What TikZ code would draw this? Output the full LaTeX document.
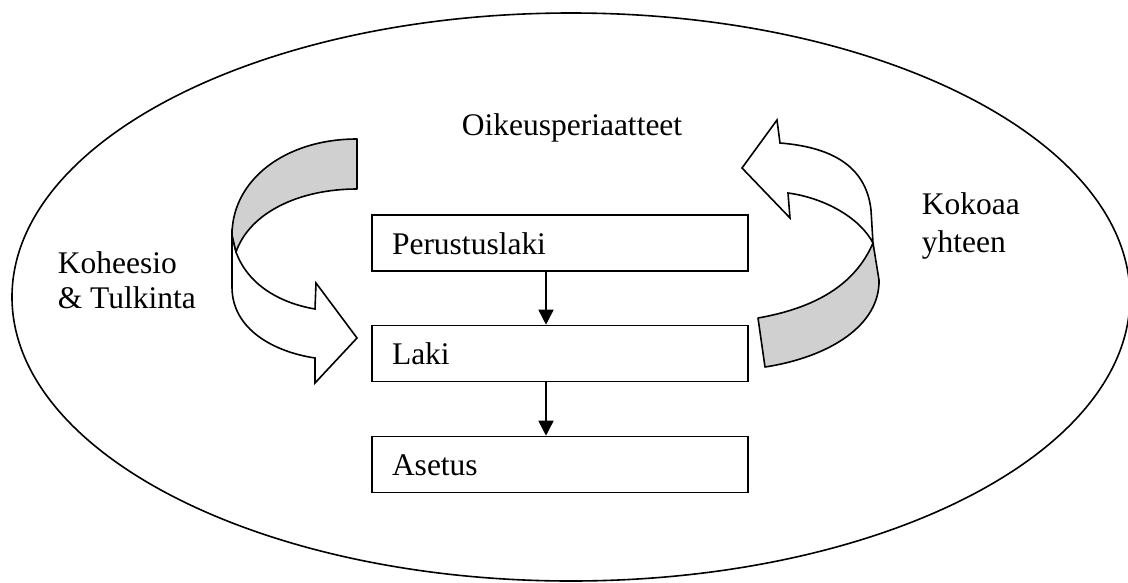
\documentclass[tikz,border=0pt]{standalone}
\usepackage{fontspec}
\setmainfont{Liberation Serif}
\usetikzlibrary{arrows.meta}
\definecolor{bandgray}{RGB}{208,208,208}
\newcommand\labfont{\fontsize{31.5}{35}\selectfont}
\begin{document}
\begin{tikzpicture}[x=1pt,y=-1pt,line width=1.6pt,
  lawbox/.style={draw, minimum width=376pt, minimum height=56pt, text width=336pt,
    inner xsep=20pt, inner ysep=0pt, align=left, text height=22pt, text depth=0pt, font=\labfont},
  lab/.style={inner sep=0pt, font=\labfont, align=left},
  down/.style={-{Triangle[length=15pt,width=15pt]}},
  band/.style={fill=bandgray, draw=black, line join=round},
  blockarrow/.style={fill=white, draw=black, line join=miter}]
\useasboundingbox (0,0) rectangle (1128,582);
\draw (571,297) ellipse [x radius=559, y radius=284];

\node[lab, anchor=base west] (oik) at (461,135) {Oikeusperiaatteet};
\node[lab, anchor=north west] (koh) at (57,250.5) {Koheesio\\\& Tulkinta};
\node[lab, anchor=north west] (kok) at (921,191.5) {Kokoaa\\[3pt]yhteen};

\node[lawbox] (p) at (560,243) {Perustuslaki};
\node[lawbox] (l) at (560,353.5) {Laki};
\node[lawbox] (a) at (560,464.5) {Asetus};
\draw[down] ([xshift=-14pt]p.south) -- ([xshift=-14pt]l.north);
\draw[down] ([xshift=-14pt]l.south) -- ([xshift=-14pt]a.north);

% left curved arrow
\draw[blockarrow] (232,235) -- (232,287) .. controls (232,330) and (275,352) .. (315,358)
  -- (315,383) -- (357,338) -- (316,283) -- (315,309)
  .. controls (280,303) and (248,285) .. (236,252) -- cycle;
\draw[band] (357,139) .. controls (285,139) and (232,180) .. (232,235) -- (236,252)
  .. controls (250,212) and (300,189) .. (357,189) -- cycle;

% right curved arrow
\draw[band] (765,367) .. controls (830,357) and (880,325) .. (879,280) -- (873,243)
  .. controls (855,285) and (815,308) .. (758,318) -- cycle;
\draw[blockarrow] (873,243) -- (871,210) .. controls (866,165) and (830,147) .. (780,143)
  -- (777,120) -- (742,168) -- (790,218) -- (788,193)
  .. controls (825,198) and (860,218) .. (873,243) -- cycle;
\end{tikzpicture}
\end{document}
